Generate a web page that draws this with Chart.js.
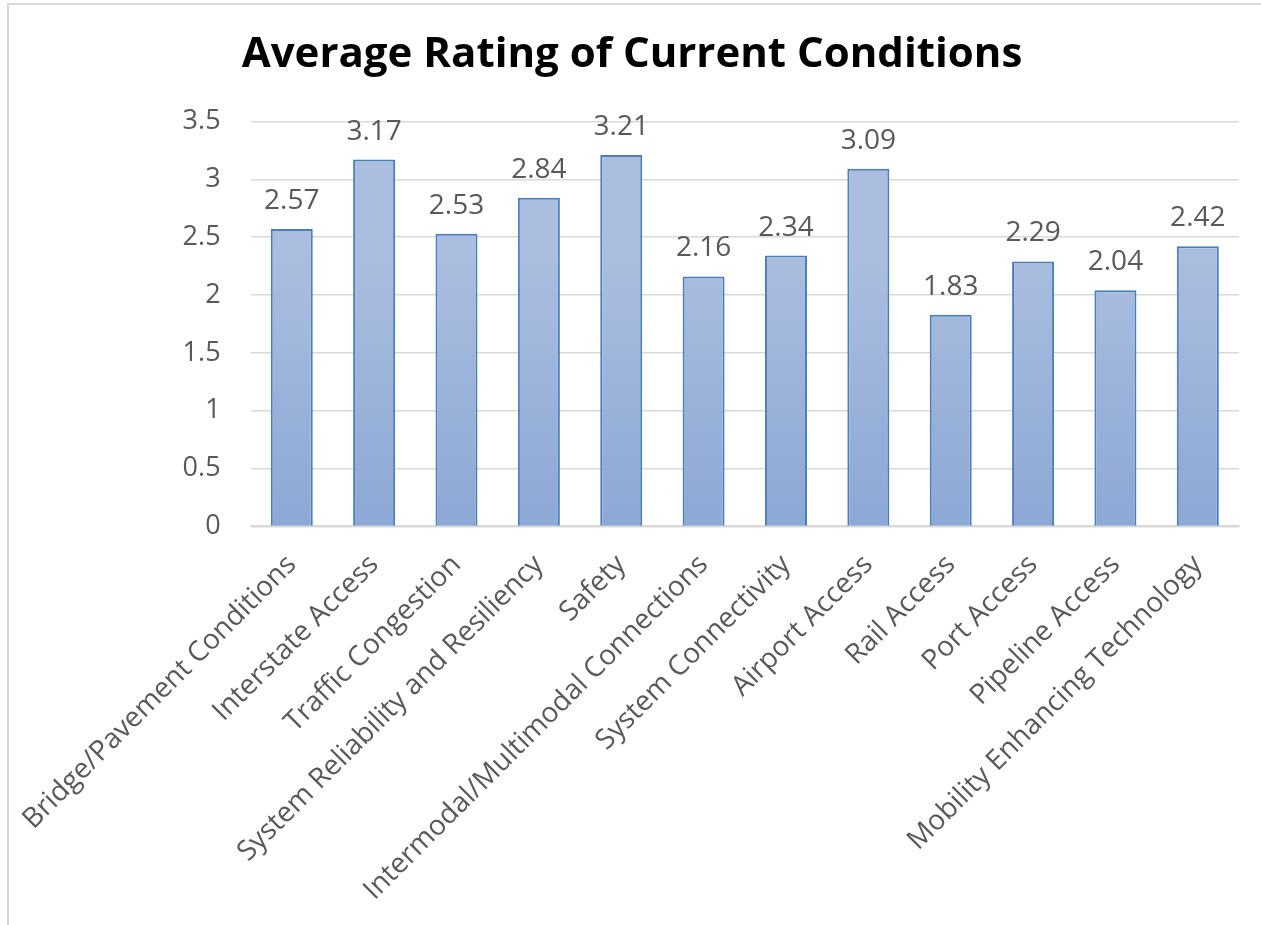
<!DOCTYPE html>
<html>
<head>
<meta charset="utf-8">
<script src="https://cdn.jsdelivr.net/npm/chart.js@4.4.1/dist/chart.umd.min.js"></script>
<style>
  html, body { margin: 0; padding: 0; background: #fff; }
  .frame {
    position: absolute; left: 7px; top: 3px; width: 1254px; height: 922px;
    border-left: 2px solid #d9d9d9; border-top: 2px solid #d9d9d9;
  }
  .chart-box { position: absolute; left: 0; top: 0; width: 1252px; height: 920px; }
</style>
</head>
<body>
<div class="frame">
  <div class="chart-box"><canvas id="chart"></canvas></div>
</div>
<script>
const categories = [
  'Bridge/Pavement Conditions', 'Interstate Access', 'Traffic Congestion',
  'System Reliability and Resiliency', 'Safety', 'Intermodal/Multimodal Connections',
  'System Connectivity', 'Airport Access', 'Rail Access', 'Port Access',
  'Pipeline Access', 'Mobility Enhancing Technology'
];
const ratings = [2.57, 3.17, 2.53, 2.84, 3.21, 2.16, 2.34, 3.09, 1.83, 2.29, 2.04, 2.42];
const yTicks = [0, 0.5, 1, 1.5, 2, 2.5, 3, 3.5];

const FONT = "'Open Sans', sans-serif";
const GRAY = '#595959';

// per-bar vertical gradient, light at the top like the Excel fill
const barGradient = {
  id: 'barGradient',
  beforeDatasetDraw(chart, args) {
    const ctx = chart.ctx;
    args.meta.data.forEach(bar => {
      const g = ctx.createLinearGradient(0, bar.y, 0, bar.base);
      g.addColorStop(0, '#abbedf');
      g.addColorStop(1, '#8ca8d5');
      bar.options.backgroundColor = g;
    });
  }
};

// value labels above each bar
const valueLabels = {
  id: 'valueLabels',
  afterDatasetsDraw(chart) {
    const ctx = chart.ctx;
    const meta = chart.getDatasetMeta(0);
    ctx.save();
    ctx.font = '28px ' + FONT;
    ctx.fillStyle = GRAY;
    ctx.textAlign = 'center';
    ctx.textBaseline = 'alphabetic';
    meta.data.forEach((bar, i) => {
      ctx.fillText(ratings[i].toFixed(2), bar.x, bar.y - 20);
    });
    ctx.restore();
  }
};

new Chart(document.getElementById('chart'), {
  type: 'bar',
  data: {
    labels: categories,
    datasets: [{
      data: ratings,
      backgroundColor: '#9db3da',
      borderColor: '#4a7ebb',
      borderWidth: 2,
      categoryPercentage: 1,
      barPercentage: 0.51
    }]
  },
  options: {
    responsive: true,
    maintainAspectRatio: false,
    animation: false,
    layout: { padding: { left: 16, right: 22, top: 0, bottom: 4 } },
    plugins: {
      legend: { display: false },
      tooltip: { enabled: false },
      title: {
        display: true,
        text: 'Average Rating of Current Conditions',
        color: '#000',
        font: { family: FONT, size: 42, weight: 'bold' },
        padding: { top: 25, bottom: 41 }
      }
    },
    scales: {
      y: {
        min: 0,
        max: 3.5,
        afterBuildTicks(scale) { scale.ticks = yTicks.map(v => ({ value: v })); },
        border: { display: false },
        grid: { color: '#d9d9d9', lineWidth: 1.5, drawTicks: false },
        ticks: {
          color: GRAY,
          padding: 30,
          font: { family: FONT, size: 27 },
          callback: v => String(v)
        }
      },
      x: {
        border: { color: '#d9d9d9', width: 2 },
        grid: { display: false },
        ticks: {
          color: GRAY,
          minRotation: 45,
          maxRotation: 45,
          padding: 14,
          font: { family: FONT, size: 28 }
        }
      }
    }
  },
  plugins: [barGradient, valueLabels]
});
</script>
</body>
</html>
